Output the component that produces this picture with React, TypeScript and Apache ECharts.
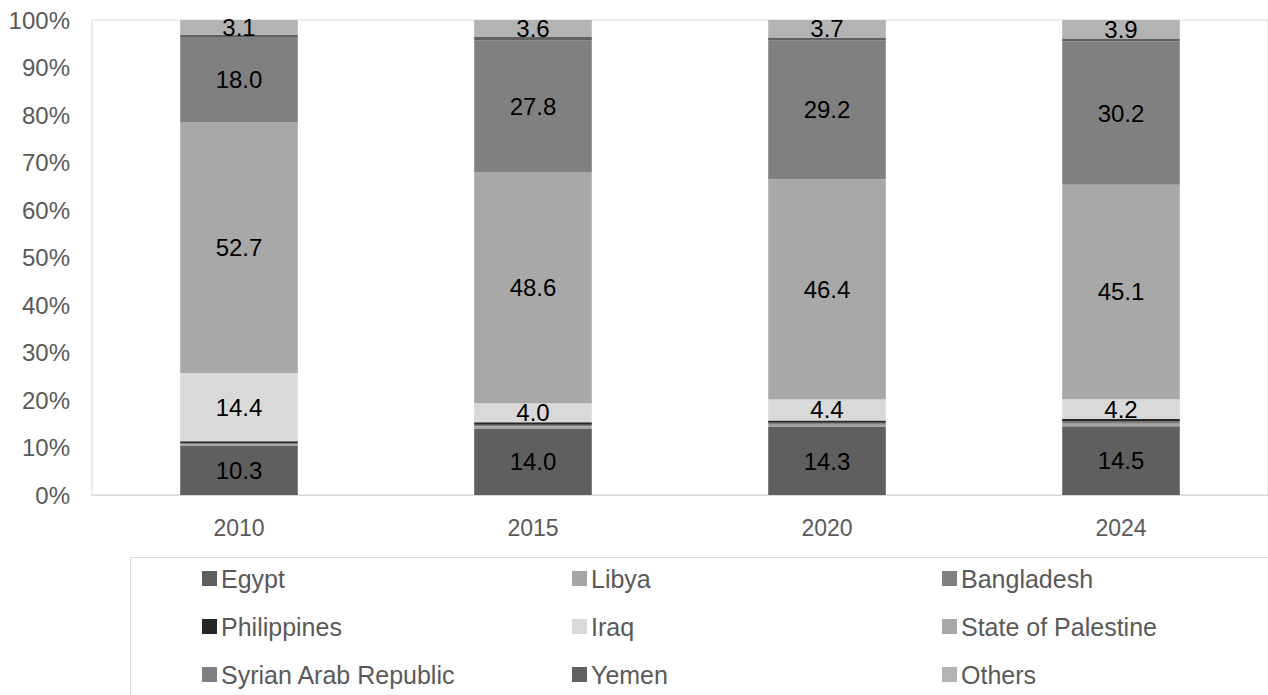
import React, { useEffect, useRef } from "react";
import * as echarts from "echarts";

const years = ["2010", "2015", "2020", "2024"];
const egypt = [10.3, 14.0, 14.3, 14.5];
const libya = [0.4, 0.5, 0.5, 0.5];
const bangladesh = [0.2, 0.3, 0.4, 0.5];
const philippines = [0.4, 0.5, 0.5, 0.5];
const iraq = [14.4, 4.0, 4.4, 4.2];
const palestine = [52.7, 48.6, 46.4, 45.1];
const syria = [18.0, 27.8, 29.2, 30.2];
const yemen = [0.5, 0.7, 0.6, 0.6];
const others = [3.1, 3.6, 3.7, 3.9];
const yTicks = [0, 10, 20, 30, 40, 50, 60, 70, 80, 90, 100];

const seriesDefs = [
  { name: "Egypt", data: egypt, color: "#5f5f5f", label: true },
  { name: "Libya", data: libya, color: "#a5a5a5", label: false },
  { name: "Bangladesh", data: bangladesh, color: "#7f7f7f", label: false },
  { name: "Philippines", data: philippines, color: "#262626", label: false },
  { name: "Iraq", data: iraq, color: "#d9d9d9", label: true },
  { name: "State of Palestine", data: palestine, color: "#a8a8a8", label: true },
  { name: "Syrian Arab Republic", data: syria, color: "#808080", label: true },
  { name: "Yemen", data: yemen, color: "#606060", label: false },
  { name: "Others", data: others, color: "#b3b3b3", label: true },
];

const legendCols = [
  ["Egypt", "Philippines", "Syrian Arab Republic"],
  ["Libya", "Iraq", "Yemen"],
  ["Bangladesh", "State of Palestine", "Others"],
];
const legendLefts = [202, 572, 942];

export default function App() {
  const ref = useRef<HTMLDivElement>(null);
  useEffect(() => {
    if (!ref.current) return;
    const chart = echarts.init(ref.current, null, { renderer: "svg" });
    const font = "'Liberation Sans', Arial, sans-serif";
    chart.setOption({
      animation: false,
      textStyle: { fontFamily: font },
      grid: {
        left: 92,
        top: 20,
        width: 1180,
        height: 475,
        show: true,
        borderColor: "#d9d9d9",
        borderWidth: 1,
        containLabel: false,
      },
      graphic: [
        {
          type: "rect",
          shape: { x: 130.5, y: 557.5, width: 1200, height: 200 },
          style: { fill: "none", stroke: "#d9d9d9", lineWidth: 1 },
          silent: true,
        },
      ],
      legend: legendCols.map((col, i) => ({
        data: col,
        orient: "vertical",
        left: legendLefts[i],
        top: 566,
        itemWidth: 15,
        itemHeight: 15,
        itemGap: 23,
        padding: 0,
        icon: "rect",
        selectedMode: false,
        textStyle: { fontSize: 25, color: "#595959", fontFamily: font, lineHeight: 25, padding: [0, 0, 0, -1] },
      })),
      xAxis: {
        type: "category",
        data: years,
        axisLine: { lineStyle: { color: "#d9d9d9" } },
        axisTick: { show: false },
        axisLabel: { fontSize: 23, color: "#595959", margin: 21, fontFamily: font },
      },
      yAxis: {
        type: "value",
        min: yTicks[0],
        max: yTicks[yTicks.length - 1],
        interval: 10,
        splitLine: { show: false },
        axisLine: { show: false },
        axisTick: { show: false },
        axisLabel: { fontSize: 24, color: "#595959", margin: 22, formatter: "{value}%", fontFamily: font },
      },
      series: seriesDefs.map((s) => ({
        name: s.name,
        type: "bar",
        stack: "total",
        barWidth: "40%",
        data: s.data,
        itemStyle: { color: s.color },
        label: {
          show: s.label,
          position: "inside",
          color: "#000000",
          fontSize: 24,
          fontFamily: font,
          formatter: (p: any) => Number(p.value).toFixed(1),
        },
      })),
    });
    return () => chart.dispose();
  }, []);
  return (
    <div
      ref={ref}
      style={{ position: "fixed", left: 0, top: 0, width: 1268, height: 695, background: "#ffffff" }}
    />
  );
}
